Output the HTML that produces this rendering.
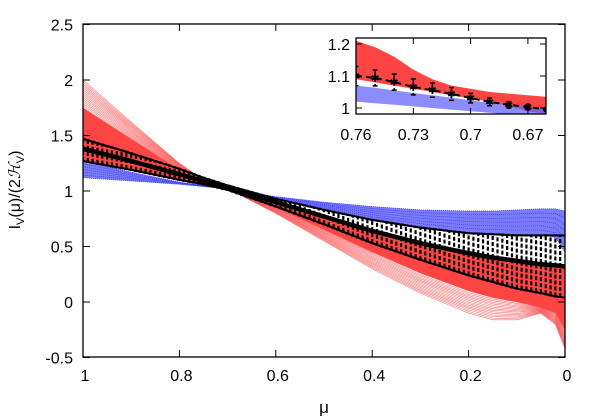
<!DOCTYPE html>
<html><head><meta charset="utf-8"><style>
html,body{margin:0;padding:0;background:#fff;}
svg{display:block;font-family:"Liberation Sans",sans-serif;}
</style></head><body>
<svg id="chart" width="600" height="420" viewBox="0 0 600 420">
<defs>
<clipPath id="mainClip"><rect x="83" y="24" width="482" height="333"/></clipPath>
<clipPath id="insClip"><rect x="356" y="38" width="190" height="76"/></clipPath>
</defs>
<g id="main" clip-path="url(#mainClip)"></g>
<g id="mainAxes"></g>
<rect x="356" y="38" width="190" height="76" fill="#fff"/>
<g id="ins" clip-path="url(#insClip)"></g>
<g id="insAxes"></g>
<text x="20" y="190" font-size="16" text-anchor="middle" transform="rotate(-90 20 190)">I<tspan font-size="11" dy="4">V</tspan><tspan dy="-4">(μ)/(2</tspan><tspan font-style="italic">ℋ</tspan><tspan font-size="11" dy="4">V</tspan><tspan dy="-4">)</tspan></text>
<text x="324" y="413" font-size="17" text-anchor="middle">μ</text>
</svg>
<script>
// main chart data
const mu = [1,0.9,0.8,0.75,0.7,0.6,0.5,0.4,0.3,0.2,0.15,0.1,0.05,0.02,0];
const redHi = [2.0,1.62,1.25,1.1,1.02,0.8,0.55,0.3,0.08,-0.1,-0.16,-0.16,-0.1,-0.2,-0.42];
const redMid = [1.75,1.47,1.19,1.08,1.02,0.85,0.65,0.45,0.26,0.1,0.04,0.0,-0.05,-0.1,-0.25];
const redLo = [1.28,1.2,1.1,1.05,1.02,0.9,0.78,0.66,0.55,0.45,0.41,0.38,0.35,0.33,0.3];
const blueHi = [1.27,1.17,1.08,1.05,1.02,0.95,0.9,0.86,0.83,0.82,0.82,0.83,0.84,0.84,0.82];
const blueLo = [1.12,1.09,1.06,1.04,1.02,0.92,0.84,0.75,0.68,0.63,0.62,0.61,0.61,0.58,0.45];
const blkMean = [1.38,1.27,1.15,1.09,1.03,0.9,0.77,0.64,0.53,0.44,0.4,0.37,0.34,0.33,0.32];
const blkHi = [1.47,1.34,1.2,1.12,1.05,0.93,0.83,0.74,0.67,0.62,0.61,0.6,0.6,0.6,0.6];
const blkLo = [1.27,1.19,1.1,1.06,1.01,0.86,0.7,0.53,0.38,0.24,0.18,0.12,0.08,0.05,0.04];
const xTicks = [1,0.8,0.6,0.4,0.2,0];
const xTickLabels = ["1","0.8","0.6","0.4","0.2","0"];
const yTicks = [-0.5,0,0.5,1,1.5,2,2.5];
const yTickLabels = ["-0.5","0","0.5","1","1.5","2","2.5"];
// inset data
const insMu = [0.76,0.75,0.74,0.73,0.72,0.71,0.70,0.69,0.68,0.67,0.66,0.65];
const insRedHi = [1.21,1.19,1.16,1.12,1.09,1.07,1.06,1.05,1.045,1.04,1.035,1.03];
const insRedLo = [1.09,1.08,1.07,1.06,1.05,1.04,1.03,1.02,1.005,0.99,0.98,0.97];
const insBlueHi = [1.07,1.063,1.055,1.047,1.04,1.032,1.024,1.016,1.01,1.004,0.998,0.99];
const insBlueLo = [1.02,1.015,1.01,1.005,1.0,0.995,0.99,0.985,0.98,0.975,0.97,0.965];
const insMean = [1.1,1.094,1.081,1.066,1.056,1.044,1.031,1.019,1.01,1.003,0.995,0.99];
const insErr = [0.03,0.025,0.025,0.025,0.022,0.02,0.015,0.012,0.01,0.008,0.006,0.005];
const insXTicks = [0.76,0.73,0.7,0.67];
const insXTickLabels = ["0.76","0.73","0.7","0.67"];
const insYTicks = [1,1.1,1.2];
const insYTickLabels = ["1","1.1","1.2"];

const NS="http://www.w3.org/2000/svg";
const X = m => 565 - m*482;
const Y = v => 302 - v*111;
const IX = m => 356 + (0.76-m)*1910;
const IY = v => 108 - (v-1)*320;
function mk(tag, attrs, parent){const e=document.createElementNS(NS,tag);for(const k in attrs)e.setAttribute(k,attrs[k]);parent.appendChild(e);return e;}
function interp(xs, ys, m){for(let i=0;i<xs.length-1;i++){const a=xs[i],b=xs[i+1];if((m<=a&&m>=b)){const t=(a-m)/(a-b);return ys[i]+(ys[i+1]-ys[i])*t;}}return ys[ys.length-1];}
function pts(xs, ys, fx, fy){return xs.map((m,i)=>fx(m).toFixed(1)+","+fy(ys[i]).toFixed(1));}
function blend(a,b,t){return a.map((v,i)=>v+(b[i]-v)*t);}

const main=document.getElementById('main');
const axes=document.getElementById('mainAxes');
// red band
let p=mk('polygon',{points:pts(mu,redLo,X,Y).concat(pts(mu,redMid,X,Y).reverse()).join(' '),fill:'#f44'},main);


for(let k=0;k<=14;k++){
  const l=mk('polyline',{points:pts(mu,blend(redMid,redHi,k/14),X,Y).join(' '),fill:'none',stroke:'#f55','stroke-width':0.6,'stroke-opacity':0.85},main);
  
  
}
// blue band
p=mk('polygon',{points:pts(mu,blueHi,X,Y).concat(pts(mu,blueLo,X,Y).reverse()).join(' '),fill:'#5a5aff','fill-opacity':0.8},main);


for(let k=0;k<=6;k++){
  const l=mk('polyline',{points:pts(mu,blend(blueLo,blueHi,k/6),X,Y).join(' '),fill:'none',stroke:'#33f','stroke-width':0.7,'stroke-dasharray':'1 1'},main);
  
  
}
// black error bars
for(let m=1;m>=0.008;m-=0.01){
  const x=X(m),y1=Y(interp(mu,blkLo,m)),y2=Y(interp(mu,blkHi,m));
  const b=mk('line',{x1:x,x2:x,y1:y1,y2:y2,stroke:'#000','stroke-width':2.2,'stroke-dasharray':'4 2'},main);
  
  
  mk('line',{x1:x-1.8,x2:x+1.8,y1:y1,y2:y1,stroke:'#000','stroke-width':2},main);
  mk('line',{x1:x-1.8,x2:x+1.8,y1:y2,y2:y2,stroke:'#000','stroke-width':2},main);
}
[[blkHi,2,'black-upper-line'],[blkLo,2,'black-lower-line'],[blkMean,4.5,'black-mean-line']].forEach(([arr,w,n])=>{
  const l=mk('polyline',{points:pts(mu,arr,X,Y).join(' '),fill:'none',stroke:'#000','stroke-width':w},main);
  
  
});
// main frame & ticks
let fr=mk('rect',{x:83,y:24,width:482,height:333,fill:'none',stroke:'#000','stroke-width':1.3},axes);


xTicks.forEach((t,i)=>{
  mk('line',{x1:X(t),x2:X(t),y1:357,y2:350,stroke:'#000'},axes);
  mk('line',{x1:X(t),x2:X(t),y1:24,y2:31,stroke:'#000'},axes);
  const tx=mk('text',{x:X(t)+2,y:381,'font-size':16,'text-anchor':'middle'},axes);
  tx.textContent=xTickLabels[i];
  
  
});
yTicks.forEach((t,i)=>{
  mk('line',{x1:83,x2:90,y1:Y(t),y2:Y(t),stroke:'#000'},axes);
  mk('line',{x1:565,x2:558,y1:Y(t),y2:Y(t),stroke:'#000'},axes);
  const tx=mk('text',{x:73,y:Y(t)+6,'font-size':16,'text-anchor':'end'},axes);
  tx.textContent=yTickLabels[i];
  
  
});
// inset
const ins=document.getElementById('ins');
const insAx=document.getElementById('insAxes');
p=mk('polygon',{points:pts(insMu,insRedHi,IX,IY).concat(pts(insMu,insRedLo,IX,IY).reverse()).join(' '),fill:'#f44'},ins);


p=mk('polygon',{points:pts(insMu,insBlueHi,IX,IY).concat(pts(insMu,insBlueLo,IX,IY).reverse()).join(' '),fill:'#66f','fill-opacity':0.75},ins);


let ml=mk('polyline',{points:pts(insMu,insMean,IX,IY).join(' '),fill:'none',stroke:'#000','stroke-width':2,'stroke-dasharray':'6 4'},ins);


insMu.forEach((m,i)=>{
  const x=IX(m),y=IY(insMean[i]),e=insErr[i]*320;
  const b=mk('line',{x1:x,x2:x,y1:y-e,y2:y+e,stroke:'#000','stroke-width':1.5,'stroke-dasharray':'4 3'},ins);
  
  
  mk('line',{x1:x-2.5,x2:x+2.5,y1:y-e,y2:y-e,stroke:'#000','stroke-width':1.5},ins);
  mk('line',{x1:x-2.5,x2:x+2.5,y1:y+e,y2:y+e,stroke:'#000','stroke-width':1.5},ins);
  const s=mk('text',{x:x,y:y+3.5,'font-size':10,'text-anchor':'middle','font-weight':'bold'},ins);
  s.textContent='✱';
  
  
});
fr=mk('rect',{x:356,y:38,width:190,height:76,fill:'none',stroke:'#000','stroke-width':1.3},insAx);


insXTicks.forEach((t,i)=>{
  mk('line',{x1:IX(t),x2:IX(t),y1:114,y2:108,stroke:'#000'},insAx);
  mk('line',{x1:IX(t),x2:IX(t),y1:38,y2:44,stroke:'#000'},insAx);
  const tx=mk('text',{x:IX(t),y:140,'font-size':16,'text-anchor':'middle'},insAx);
  tx.textContent=insXTickLabels[i];
  
  
});
insYTicks.forEach((t,i)=>{
  mk('line',{x1:356,x2:362,y1:IY(t),y2:IY(t),stroke:'#000'},insAx);
  mk('line',{x1:546,x2:540,y1:IY(t),y2:IY(t),stroke:'#000'},insAx);
  const tx=mk('text',{x:350,y:IY(t)+6,'font-size':16,'text-anchor':'end'},insAx);
  tx.textContent=insYTickLabels[i];
  
  
});
</script>
</body></html>
